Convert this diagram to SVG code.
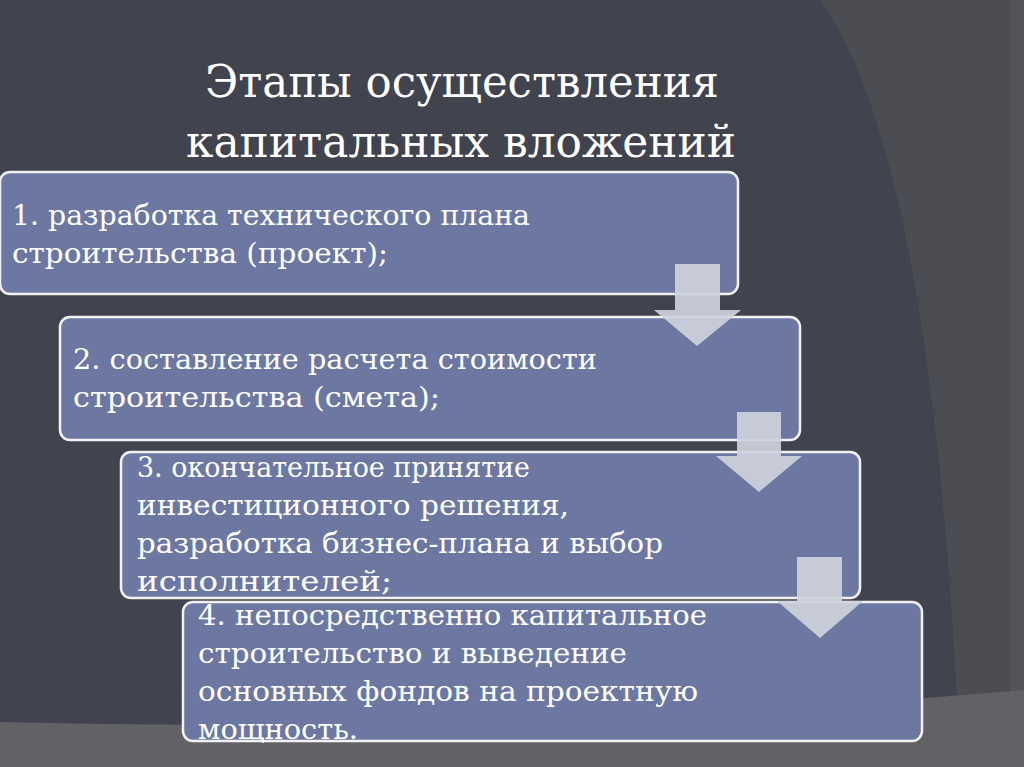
<svg xmlns="http://www.w3.org/2000/svg" width="1024" height="767" viewBox="0 0 1024 767">
<style>
.box{fill:#6c78a1;stroke:#f2f2f5;stroke-width:2.5}
.t{font-family:"DejaVu Serif","Liberation Serif",serif;font-size:27px;fill:#ffffff}
.title{font-family:"DejaVu Serif","Liberation Serif",serif;font-size:44px;fill:#ffffff}
.arr{fill:#cfd2dc;fill-opacity:0.92}
</style>
<rect width="1024" height="767" fill="#41434e"/>
<path d="M820 0 Q935 160 960 767 L1024 767 L1024 0 Z" fill="#4c4d52"/>
<path d="M1010 0 L1024 0 L1024 767 L1010 767 Z" fill="#555559"/>
<path d="M0 722 Q500 735 1024 690 L1024 767 L0 767 Z" fill="#626266"/>
<text class="title" x="205" y="97" textLength="514" lengthAdjust="spacingAndGlyphs">Этапы осуществления</text>
<text class="title" x="186" y="157" textLength="550" lengthAdjust="spacingAndGlyphs">капитальных вложений</text>
<g id="node1"><rect class="box" x="0" y="172" width="738" height="122" rx="10"/>
<text class="t" x="12" y="225" textLength="518" lengthAdjust="spacingAndGlyphs">1. разработка технического плана</text>
<text class="t" x="12" y="263" textLength="376" lengthAdjust="spacingAndGlyphs">строительства (проект);</text></g>
<g id="node2"><rect class="box" x="60" y="317" width="740" height="123" rx="10"/>
<text class="t" x="73" y="369" textLength="524" lengthAdjust="spacingAndGlyphs">2. составление расчета стоимости</text>
<text class="t" x="73" y="407" textLength="367" lengthAdjust="spacingAndGlyphs">строительства (смета);</text></g>
<g id="node3"><rect class="box" x="121" y="452" width="739" height="146" rx="10"/>
<text class="t" x="137" y="477" textLength="393" lengthAdjust="spacingAndGlyphs">3. окончательное принятие</text>
<text class="t" x="137" y="515" textLength="432" lengthAdjust="spacingAndGlyphs">инвестиционного решения,</text>
<text class="t" x="137" y="553" textLength="526" lengthAdjust="spacingAndGlyphs">разработка бизнес-плана и выбор</text>
<text class="t" x="137" y="591" textLength="255" lengthAdjust="spacingAndGlyphs">исполнителей;</text></g>
<g id="node4"><rect class="box" x="183" y="602" width="739" height="139" rx="10"/>
<text class="t" x="198" y="625" textLength="509" lengthAdjust="spacingAndGlyphs">4. непосредственно капитальное</text>
<text class="t" x="198" y="663" textLength="429" lengthAdjust="spacingAndGlyphs">строительство и выведение</text>
<text class="t" x="198" y="701" textLength="500" lengthAdjust="spacingAndGlyphs">основных фондов на проектную</text>
<text class="t" x="198" y="739" textLength="160" lengthAdjust="spacingAndGlyphs">мощность.</text></g>
<g id="connectors">
<path class="arr" d="M675 264 H720 V310 H741 L697 346 L654 310 H675 Z"/>
<path class="arr" d="M737 412 H781 V456 H802 L759 492 L716 456 H737 Z"/>
<path class="arr" d="M797 557 H842 V601 H863 L820 638 L777 601 H797 Z"/>
</g>
</svg>
